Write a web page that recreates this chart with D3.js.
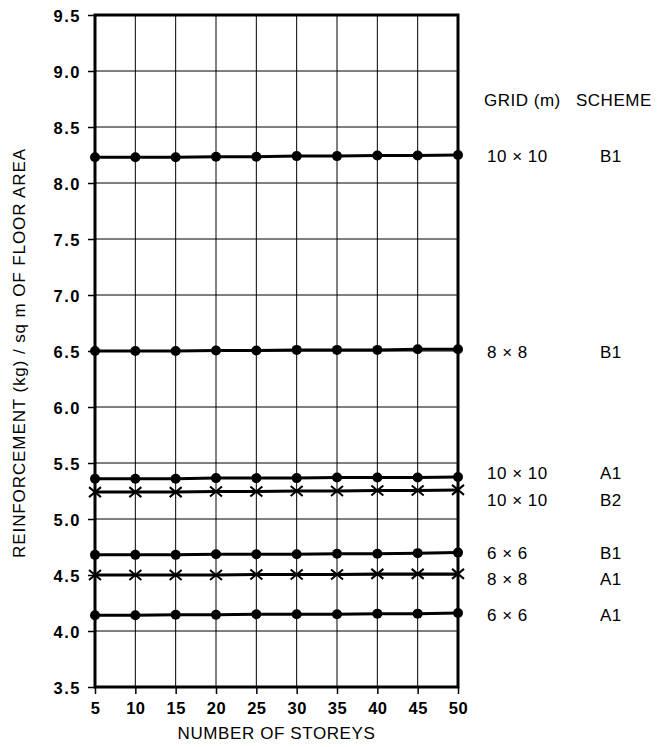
<!DOCTYPE html>
<html>
<head>
<meta charset="utf-8">
<script src="https://cdn.jsdelivr.net/npm/d3@7"></script>
<style>
  html, body { margin: 0; padding: 0; background: #fff; }
  svg { display: block; }
  text { font-family: "Liberation Sans", Arial, Helvetica, sans-serif; fill: #000; }
</style>
</head>
<body>
<svg id="chart" width="672" height="747"></svg>
<script>
// Number of storeys on the x axis
const storeys = [5, 10, 15, 20, 25, 30, 35, 40, 45, 50];
const xTicks = [5, 10, 15, 20, 25, 30, 35, 40, 45, 50];
const yTicks = [3.5, 4.0, 4.5, 5.0, 5.5, 6.0, 6.5, 7.0, 7.5, 8.0, 8.5, 9.0, 9.5];

// Reinforcement (kg / sq m of floor area) for each grid / scheme
const grid10B1 = [8.23, 8.23, 8.23, 8.235, 8.235, 8.24, 8.24, 8.245, 8.245, 8.25];
const grid8B1  = [6.50, 6.50, 6.50, 6.505, 6.505, 6.51, 6.51, 6.51, 6.515, 6.515];
const grid10A1 = [5.36, 5.36, 5.36, 5.365, 5.365, 5.365, 5.37, 5.37, 5.37, 5.375];
const grid10B2 = [5.24, 5.24, 5.24, 5.245, 5.245, 5.25, 5.25, 5.255, 5.255, 5.26];
const grid6B1  = [4.68, 4.68, 4.68, 4.685, 4.685, 4.685, 4.69, 4.69, 4.695, 4.70];
const grid8A1  = [4.50, 4.50, 4.50, 4.50, 4.505, 4.505, 4.505, 4.51, 4.51, 4.51];
const grid6A1  = [4.14, 4.14, 4.145, 4.145, 4.15, 4.15, 4.15, 4.155, 4.155, 4.16];

const gridLabels   = ["10 \u00d7 10", "8 \u00d7 8", "10 \u00d7 10", "10 \u00d7 10", "6 \u00d7 6", "8 \u00d7 8", "6 \u00d7 6"];
const schemeLabels = ["B1", "B1", "A1", "B2", "B1", "A1", "A1"];
const markerKinds  = ["dot", "dot", "dot", "cross", "dot", "cross", "dot"];
// value level at which each key row is written
const labelLevels  = [8.241, 6.491, 5.411, 5.170, 4.696, 4.464, 4.143];
const headerLevel  = 8.741;

const seriesValues = [grid10B1, grid8B1, grid10A1, grid10B2, grid6B1, grid8A1, grid6A1];

const svg = d3.select("#chart");
const plotL = 95, plotR = 458, plotT = 15, plotB = 687;

const x = d3.scaleLinear().domain([5, 50]).range([plotL, plotR]);
const y = d3.scaleLinear().domain([3.5, 9.5]).range([plotB, plotT]);

// grid lines
const g = svg.append("g");
g.selectAll("line.vg").data(xTicks.slice(1, -1)).enter().append("line")
  .attr("x1", d => x(d)).attr("x2", d => x(d))
  .attr("y1", plotT).attr("y2", plotB)
  .attr("stroke", "#000").attr("stroke-width", 1);
g.selectAll("line.hg").data(yTicks.slice(1, -1)).enter().append("line")
  .attr("x1", plotL).attr("x2", plotR)
  .attr("y1", d => y(d)).attr("y2", d => y(d))
  .attr("stroke", "#000").attr("stroke-width", 1);

// axes
const yAxis = d3.axisLeft(y).tickValues(yTicks).tickSize(7).tickPadding(7)
  .tickFormat(d3.format(".1f"));
const xAxis = d3.axisBottom(x).tickValues(xTicks).tickSize(7).tickPadding(6)
  .tickFormat(d3.format("d"));

const ya = svg.append("g").attr("transform", `translate(${plotL},0)`).call(yAxis);
const xa = svg.append("g").attr("transform", `translate(0,${plotB})`).call(xAxis);
[ya, xa].forEach(a => {
  a.select(".domain").remove();
  a.selectAll(".tick line").attr("stroke", "#000").attr("stroke-width", 1.5);
  a.selectAll(".tick text")
    .style("font-size", "16.5px").style("font-weight", "bold")
    .style("font-family", "'Liberation Sans', Arial, sans-serif");
});
ya.selectAll(".tick text").attr("dy", "0.4em").style("letter-spacing", "1.5px");
xa.selectAll(".tick text").attr("dy", "0.85em").style("letter-spacing", "0.5px");

// frame
svg.append("rect")
  .attr("x", plotL).attr("y", plotT)
  .attr("width", plotR - plotL).attr("height", plotB - plotT)
  .attr("fill", "none").attr("stroke", "#000").attr("stroke-width", 3);

// series
const line = d3.line().x((d, i) => x(storeys[i])).y(d => y(d));
seriesValues.forEach((vals, k) => {
  svg.append("path").datum(vals)
    .attr("d", line)
    .attr("fill", "none").attr("stroke", "#000").attr("stroke-width", 3);
  if (markerKinds[k] === "dot") {
    svg.selectAll(null).data(vals).enter().append("circle")
      .attr("cx", (d, i) => x(storeys[i])).attr("cy", d => y(d))
      .attr("r", 5).attr("fill", "#000");
  } else {
    svg.selectAll(null).data(vals).enter().append("path")
      .attr("transform", (d, i) => `translate(${x(storeys[i])},${y(d)})`)
      .attr("d", "M-6,-5L6,5M-6,5L6,-5")
      .attr("stroke", "#000").attr("stroke-width", 2).attr("fill", "none");
  }
});

// key on the right
const key = svg.append("g").style("font-size", "17px").style("letter-spacing", "0.5px");
key.append("text").attr("x", 484).attr("y", y(headerLevel)).attr("dy", "0.36em").text("GRID (m)");
key.append("text").attr("x", 576).attr("y", y(headerLevel)).attr("dy", "0.36em").text("SCHEME");
labelLevels.forEach((v, i) => {
  key.append("text").attr("x", 487).attr("y", y(v)).attr("dy", "0.36em").text(gridLabels[i]);
  key.append("text").attr("x", 600).attr("y", y(v)).attr("dy", "0.36em").text(schemeLabels[i]);
});

// axis titles
svg.append("text")
  .attr("x", (plotL + plotR) / 2).attr("y", 739)
  .attr("text-anchor", "middle").style("font-size", "17px").style("letter-spacing", "0.6px")
  .text("NUMBER OF STOREYS");
svg.append("text")
  .attr("transform", `translate(25,${(plotT + plotB) / 2 + 2}) rotate(-90)`)
  .attr("text-anchor", "middle").style("font-size", "17px").style("letter-spacing", "0.9px")
  .text("REINFORCEMENT (kg) / sq m OF FLOOR AREA");
</script>
</body>
</html>
